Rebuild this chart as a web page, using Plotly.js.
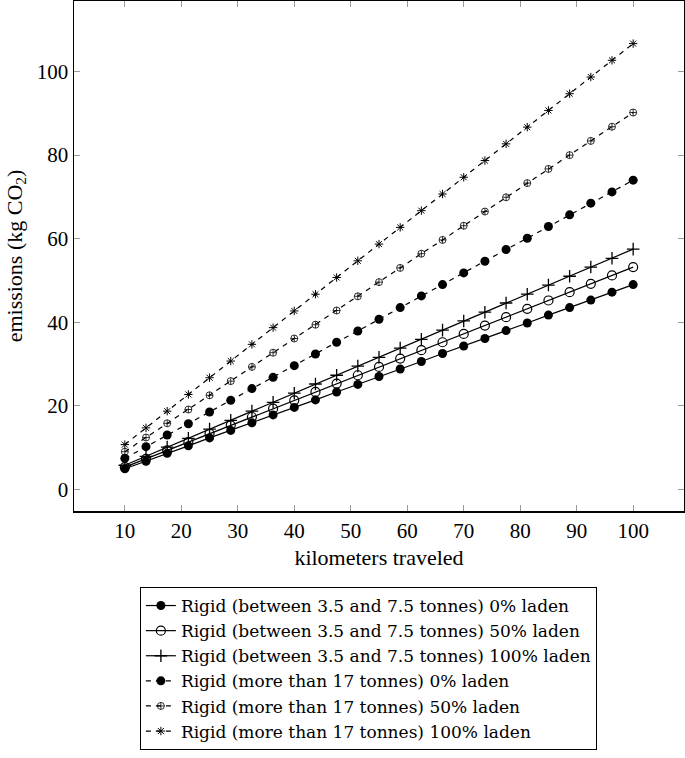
<!DOCTYPE html>
<html>
<head>
<meta charset="utf-8">
<script src="https://cdn.plot.ly/plotly-3.0.1.min.js"></script>
<style>html,body{margin:0;padding:0;background:#fff;}#chart{width:685px;height:758px;}</style>
</head>
<body>
<div id="chart"></div>
<script>
const km = [10, 13.75, 17.5, 21.25, 25, 28.75, 32.5, 36.25, 40, 43.75, 47.5, 51.25, 55, 58.75, 62.5, 66.25, 70, 73.75, 77.5, 81.25, 85, 88.75, 92.5, 96.25, 100];

const rigidSmall0 = [4.9, 6.7, 8.6, 10.4, 12.3, 14.1, 15.9, 17.8, 19.6, 21.4, 23.3, 25.1, 27.0, 28.8, 30.6, 32.5, 34.3, 36.1, 38.0, 39.8, 41.7, 43.5, 45.3, 47.2, 49.0];
const rigidSmall50 = [5.3, 7.3, 9.3, 11.3, 13.3, 15.3, 17.3, 19.3, 21.3, 23.3, 25.3, 27.3, 29.3, 31.3, 33.3, 35.2, 37.2, 39.2, 41.2, 43.2, 45.2, 47.2, 49.2, 51.2, 53.2];
const rigidSmall100 = [5.75, 7.9, 10.1, 12.2, 14.4, 16.5, 18.7, 20.8, 23.0, 25.2, 27.3, 29.5, 31.6, 33.8, 35.9, 38.1, 40.3, 42.4, 44.6, 46.7, 48.9, 51.0, 53.2, 55.3, 57.5];
const rigidLarge0 = [7.4, 10.2, 13.0, 15.7, 18.5, 21.3, 24.1, 26.8, 29.6, 32.4, 35.2, 37.9, 40.7, 43.5, 46.3, 49.0, 51.8, 54.6, 57.4, 60.1, 62.9, 65.7, 68.5, 71.2, 74.0];
const rigidLarge50 = [9.0, 12.4, 15.8, 19.1, 22.5, 25.9, 29.3, 32.7, 36.1, 39.4, 42.8, 46.2, 49.6, 53.0, 56.4, 59.7, 63.1, 66.5, 69.9, 73.3, 76.7, 80.0, 83.4, 86.8, 90.2];
const rigidLarge100 = [10.7, 14.7, 18.7, 22.7, 26.7, 30.7, 34.7, 38.7, 42.7, 46.7, 50.7, 54.7, 58.7, 62.7, 66.7, 70.7, 74.7, 78.7, 82.7, 86.7, 90.7, 94.7, 98.7, 102.7, 106.7];

const seriesNames = [
  "Rigid (between 3.5 and 7.5 tonnes) 0% laden",
  "Rigid (between 3.5 and 7.5 tonnes) 50% laden",
  "Rigid (between 3.5 and 7.5 tonnes) 100% laden",
  "Rigid (more than 17 tonnes) 0% laden",
  "Rigid (more than 17 tonnes) 50% laden",
  "Rigid (more than 17 tonnes) 100% laden"
];
const seriesValues = [rigidSmall0, rigidSmall50, rigidSmall100, rigidLarge0, rigidLarge50, rigidLarge100];

const styles = [
  {dash: 'solid', symbol: 'circle', size: 9, mlw: 0},
  {dash: 'solid', symbol: 'circle-open', size: 9, mlw: 1.2},
  {dash: 'solid', symbol: 'cross-thin-open', size: 9, mlw: 1.3},
  {dash: '5px,5px', symbol: 'circle', size: 9, mlw: 0},
  {dash: '5px,5px', symbol: 'circle-cross-open', size: 7, mlw: 0.8},
  {dash: '5px,5px', symbol: 'asterisk-open', size: 7, mlw: 1.0}
];

const traces = seriesValues.map((vals, i) => ({
  x: km,
  y: vals,
  type: 'scatter',
  mode: 'lines+markers',
  name: seriesNames[i],
  line: {color: '#000', width: 1.2, dash: styles[i].dash},
  marker: {color: '#000', symbol: styles[i].symbol, size: styles[i].size, line: {color: '#000', width: styles[i].mlw}}
}));

const serif = '"Liberation Serif", "DejaVu Serif", serif';
const tickFont = {family: serif, color: '#000', size: 21};
const titleFont = {family: serif, color: '#000', size: 22};
const legendFont = {family: '"DejaVu Serif", serif', color: '#000', size: 17};

const layout = {
  width: 685,
  height: 758,
  margin: {l: 74, r: 1, t: 1, b: 247},
  paper_bgcolor: '#fff',
  plot_bgcolor: '#fff',
  font: tickFont,
  showlegend: true,
  xaxis: {
    range: [1, 109],
    tickvals: [10, 20, 30, 40, 50, 60, 70, 80, 90, 100],
    ticks: 'inside',
    ticklen: 6,
    tickcolor: '#999',
    tickwidth: 1,
    mirror: 'ticks',
    showline: true,
    linecolor: '#000',
    linewidth: 1.5,
    showgrid: false,
    zeroline: false,
    tickfont: tickFont,
    title: {text: 'kilometers traveled', font: titleFont, standoff: 8}
  },
  yaxis: {
    range: [-5.2, 116.9],
    tickvals: [0, 20, 40, 60, 80, 100],
    ticks: 'inside',
    ticklen: 6,
    tickcolor: '#999',
    tickwidth: 1,
    mirror: 'ticks',
    showline: true,
    linecolor: '#000',
    linewidth: 1.5,
    showgrid: false,
    zeroline: false,
    tickfont: tickFont,
    title: {text: 'emissions (kg CO<sub>2</sub>)', font: titleFont, standoff: 8}
  },
  legend: {
    x: 0.108,
    y: -0.149,
    xanchor: 'left',
    yanchor: 'top',
    bgcolor: '#fff',
    bordercolor: '#000',
    borderwidth: 1,
    font: legendFont,
    itemwidth: 30
  }
};

Plotly.newPlot('chart', traces, layout, {displayModeBar: false, staticPlot: true});
</script>
</body>
</html>
